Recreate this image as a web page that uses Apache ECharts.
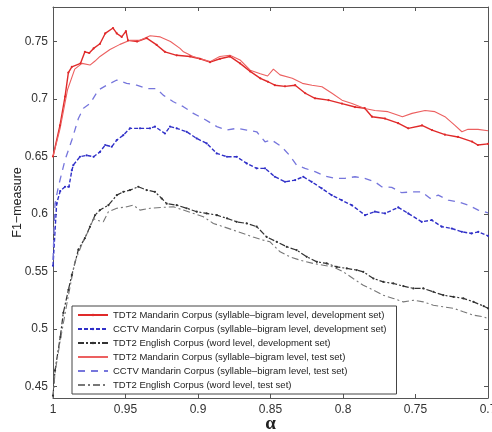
<!DOCTYPE html>
<html>
<head>
<meta charset="utf-8">
<script src="https://cdn.jsdelivr.net/npm/echarts@6/dist/echarts.min.js"></script>
<style>html,body{margin:0;padding:0;background:#fff}#c{width:492px;height:432px}</style>
</head>
<body>
<div id="c"></div>
<script>
// ---- data ----
var xTicks = [1, 0.95, 0.9, 0.85, 0.8, 0.75, 0.7];
var yTicks = [0.45, 0.5, 0.55, 0.6, 0.65, 0.7, 0.75];

var seriesNames = [
  'TDT2 Mandarin Corpus (syllable–bigram level, development set)',
  'CCTV Mandarin Corpus (syllable–bigram level, development set)',
  'TDT2 English Corpus (word level, development set)',
  'TDT2 Mandarin Corpus (syllable–bigram level, test set)',
  'CCTV Mandarin Corpus (syllable–bigram level, test set)',
  'TDT2 English Corpus (word level, test set)'
];

var redDevA = [1.0,0.9952,0.9917,0.9894,0.987,0.981,0.978,0.975,0.972,0.9676,0.964,0.9586,0.956,0.9526,0.9497,0.9483,0.942,0.9354,0.9285,0.9228,0.9147,0.9055,0.8986,0.8917,0.8848,0.878,0.871,0.864,0.857,0.8517,0.847,0.840,0.833,0.826,0.8193,0.810,0.8007,0.7917,0.785,0.780,0.771,0.762,0.755,0.7455,0.7386,0.7297,0.7207,0.711,0.707,0.700];
var redDevV = [0.650,0.677,0.702,0.723,0.728,0.731,0.741,0.740,0.744,0.748,0.757,0.7617,0.757,0.754,0.759,0.751,0.750,0.753,0.747,0.741,0.738,0.737,0.735,0.732,0.735,0.737,0.731,0.724,0.718,0.715,0.712,0.711,0.712,0.705,0.7006,0.699,0.696,0.693,0.692,0.6846,0.683,0.679,0.6745,0.677,0.673,0.669,0.667,0.663,0.660,0.661];

var cctvDevA = [1.0,0.9975,0.995,0.9917,0.989,0.987,0.986,0.9814,0.9768,0.972,0.9676,0.964,0.9595,0.956,0.9515,0.9469,0.940,0.9331,0.9297,0.9228,0.9193,0.9147,0.9078,0.9009,0.894,0.8871,0.880,0.8733,0.8664,0.8595,0.8538,0.847,0.840,0.833,0.8274,0.8216,0.8147,0.8078,0.8009,0.794,0.7848,0.778,0.771,0.7619,0.755,0.7457,0.7388,0.7319,0.725,0.718,0.7113,0.7067,0.700];
var cctvDevV = [0.555,0.609,0.620,0.6237,0.6237,0.638,0.6425,0.6498,0.651,0.6498,0.654,0.660,0.6585,0.6643,0.6686,0.6745,0.6745,0.6745,0.676,0.670,0.676,0.6745,0.6715,0.6657,0.6614,0.6527,0.6498,0.6498,0.644,0.6397,0.6397,0.6324,0.628,0.6295,0.6324,0.628,0.6223,0.6164,0.612,0.6077,0.599,0.602,0.6005,0.6057,0.6005,0.5932,0.5947,0.589,0.5874,0.5845,0.5831,0.5845,0.581];

var engDevA = [1.0,0.9986,0.995,0.9929,0.9894,0.987,0.9825,0.978,0.9745,0.971,0.9676,0.9618,0.956,0.9515,0.9469,0.9412,0.9354,0.9297,0.925,0.9216,0.9147,0.9078,0.9009,0.894,0.887,0.880,0.8733,0.8664,0.8595,0.8526,0.8457,0.8388,0.832,0.825,0.818,0.8112,0.8043,0.7974,0.7905,0.786,0.779,0.7722,0.7653,0.7584,0.7515,0.7446,0.7377,0.7308,0.7238,0.717,0.710,0.703,0.700];
var engDevV = [0.442,0.464,0.493,0.514,0.534,0.547,0.569,0.579,0.589,0.599,0.6034,0.6077,0.6164,0.6193,0.6208,0.6237,0.6208,0.6193,0.6135,0.609,0.6077,0.605,0.602,0.6005,0.599,0.5962,0.5932,0.5918,0.589,0.580,0.5758,0.5715,0.5686,0.5628,0.5584,0.557,0.554,0.5527,0.5512,0.5497,0.5439,0.541,0.5396,0.5373,0.5353,0.5353,0.5323,0.5294,0.528,0.5266,0.5236,0.5199,0.518];

var redTestA = [1.0,0.995,0.990,0.985,0.980,0.9745,0.971,0.9676,0.9607,0.9538,0.947,0.940,0.933,0.926,0.919,0.9124,0.910,0.9034,0.8917,0.885,0.878,0.871,0.864,0.857,0.852,0.848,0.8434,0.835,0.828,0.8214,0.8145,0.8076,0.8007,0.7938,0.785,0.778,0.769,0.759,0.7524,0.7434,0.7366,0.7297,0.7228,0.718,0.7138,0.7069,0.700];
var redTestV = [0.650,0.675,0.708,0.726,0.731,0.7295,0.733,0.737,0.743,0.7475,0.751,0.751,0.755,0.754,0.750,0.744,0.741,0.737,0.7325,0.737,0.738,0.734,0.725,0.722,0.720,0.726,0.721,0.718,0.7136,0.712,0.7107,0.705,0.699,0.696,0.6918,0.690,0.689,0.6846,0.6875,0.690,0.689,0.6846,0.677,0.6715,0.6736,0.6736,0.6724];

var cctvTestA = [1.0,0.9986,0.9963,0.9917,0.987,0.9825,0.979,0.9745,0.9687,0.963,0.956,0.9492,0.9423,0.9354,0.9285,0.924,0.917,0.9101,0.9032,0.8963,0.887,0.880,0.8733,0.8664,0.8595,0.8538,0.8492,0.8423,0.837,0.832,0.8262,0.8193,0.8124,0.8055,0.7986,0.7917,0.785,0.778,0.7733,0.7664,0.7595,0.7526,0.7457,0.740,0.7343,0.7274,0.7205,0.7136,0.7067,0.700];
var cctvTestV = [0.560,0.609,0.6237,0.647,0.6643,0.683,0.692,0.696,0.7078,0.712,0.7165,0.7136,0.712,0.709,0.709,0.7034,0.6976,0.6933,0.6875,0.683,0.676,0.673,0.6745,0.673,0.6715,0.6628,0.6643,0.6585,0.6512,0.6425,0.6397,0.6368,0.633,0.631,0.631,0.6324,0.631,0.628,0.6237,0.6232,0.6185,0.6193,0.6193,0.6136,0.6164,0.612,0.6106,0.6077,0.6034,0.601];

var engTestA = [1.0,0.9986,0.995,0.990,0.985,0.980,0.975,0.972,0.9699,0.9653,0.9618,0.956,0.949,0.9446,0.940,0.933,0.924,0.917,0.9101,0.9032,0.8963,0.8894,0.8826,0.8757,0.8688,0.862,0.855,0.8503,0.8434,0.8366,0.8297,0.8205,0.8136,0.8067,0.7998,0.793,0.786,0.779,0.7722,0.7653,0.7584,0.7515,0.7446,0.7377,0.7308,0.7238,0.717,0.710,0.703,0.700];
var engTestV = [0.440,0.462,0.490,0.525,0.558,0.574,0.587,0.596,0.5947,0.5932,0.602,0.605,0.6063,0.6077,0.6034,0.605,0.6058,0.6063,0.6034,0.6005,0.5976,0.5918,0.589,0.586,0.583,0.580,0.5773,0.5758,0.5671,0.5628,0.5599,0.557,0.5555,0.554,0.5497,0.5439,0.538,0.5338,0.5294,0.5266,0.5236,0.525,0.5236,0.5207,0.5193,0.518,0.515,0.512,0.5106,0.509];

function pairs(a, v) { return a.map(function (x, i) { return [x, v[i]]; }); }

var chart = echarts.init(document.getElementById('c'), null, {renderer: 'canvas'});

var axisCol = '#555';
var font = 'Liberation Sans, Arial, sans-serif';

function xAx(pos, labels) {
  return {
    type: 'value', position: pos, inverse: true, min: 0.7, max: 1,
    axisLine: {show: true, onZero: false, lineStyle: {color: axisCol, width: 1}},
    axisTick: {show: true, inside: true, length: 4, customValues: xTicks, lineStyle: {color: axisCol}},
    axisLabel: {show: labels, customValues: xTicks, color: '#333', fontSize: 12, fontFamily: font, margin: 6},
    splitLine: {show: false},
    name: labels ? 'α' : '', nameLocation: 'middle', nameGap: 26, nameMoveOverlap: false,
    nameTextStyle: {fontSize: 19, lineHeight: 19, fontFamily: 'Liberation Serif, DejaVu Serif, serif', color: '#222', fontWeight: 'bold', verticalAlign: 'middle'}
  };
}
function yAx(pos, labels) {
  return {
    type: 'value', position: pos, min: 0.44, max: 0.78,
    axisLine: {show: true, onZero: false, lineStyle: {color: axisCol, width: 1}},
    axisTick: {show: true, inside: true, length: 4, customValues: yTicks, lineStyle: {color: axisCol}},
    axisLabel: {show: labels, customValues: yTicks, color: '#333', fontSize: 12, fontFamily: font, margin: 5},
    splitLine: {show: false},
    name: labels ? 'F1−measure' : '', nameLocation: 'middle', nameGap: 29, nameRotate: 90, nameMoveOverlap: false,
    nameTextStyle: {fontSize: 12.5, fontFamily: font, color: '#222'}
  };
}

function mk(name, data, color, width, type, sym) {
  return {
    name: name, type: 'line', data: data, xAxisIndex: 0, yAxisIndex: 0,
    symbol: 'circle', symbolSize: 2.2, showSymbol: !!sym,
    itemStyle: {color: color},
    lineStyle: {color: color, width: width, type: type},
    clip: true, animation: false, z: 2
  };
}

var legendData = seriesNames.map(function (n, i) {
  return i < 3 ? {name: n} : {name: n, itemStyle: {opacity: 0}};
});

chart.setOption({
  backgroundColor: '#fff',
  animation: false,
  grid: {left: 53, top: 7, right: 4, bottom: 34, containLabel: false, outerBoundsMode: 'none'},
  xAxis: [xAx('bottom', true), xAx('top', false)],
  yAxis: [yAx('left', true), yAx('right', false)],
  legend: {
    orient: 'vertical', left: 72, top: 306,
    padding: [3, 10, 3, 5], itemGap: 2, itemWidth: 30, itemHeight: 3,
    backgroundColor: '#fff', borderColor: '#444', borderWidth: 1,
    textStyle: {fontSize: 9.5, fontFamily: font, color: '#222', lineHeight: 12},
    data: legendData
  },
  series: [
    mk(seriesNames[0], pairs(redDevA, redDevV), '#e02a2a', 1.4, 'solid', true),
    mk(seriesNames[1], pairs(cctvDevA, cctvDevV), '#3030c8', 1.4, [4, 2], true),
    mk(seriesNames[2], pairs(engDevA, engDevV), '#333333', 1.2, [6, 2, 2, 2], true),
    mk(seriesNames[3], pairs(redTestA, redTestV), '#ec6060', 1.1, 'solid', false),
    mk(seriesNames[4], pairs(cctvTestA, cctvTestV), '#7676dc', 1.3, [7, 6], false),
    mk(seriesNames[5], pairs(engTestA, engTestV), '#777777', 1.1, [7, 3, 2, 3], false)
  ]
});
</script>
</body>
</html>
